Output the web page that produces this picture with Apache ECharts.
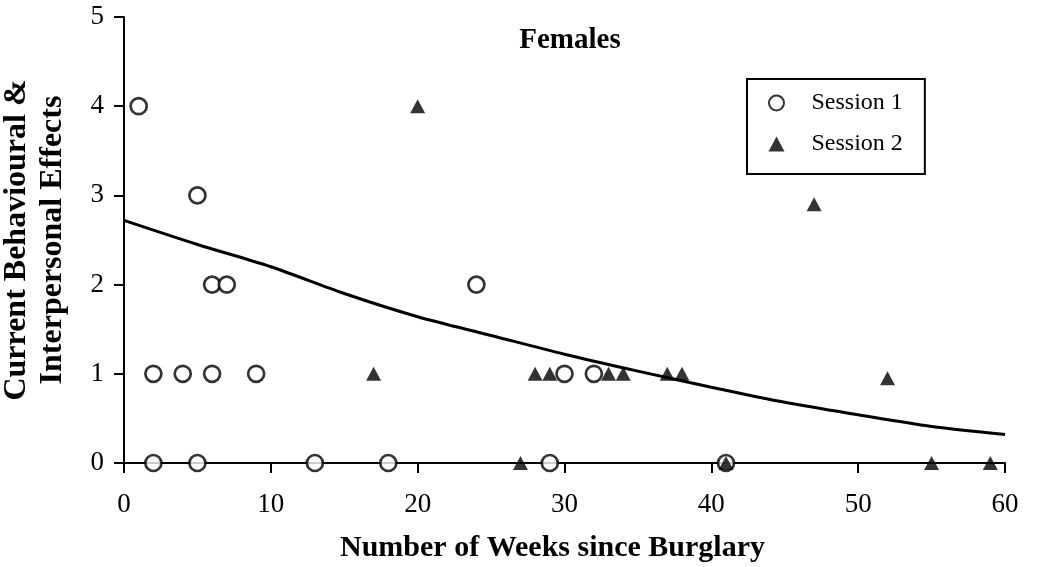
<!DOCTYPE html>
<html lang="en">

<head>
  <meta charset="utf-8">
  <title>Females</title>
  <script src="https://cdn.jsdelivr.net/npm/echarts@6/dist/echarts.min.js"></script>
</head>

<body style="margin:0;background:#fff">
<div id="main" style="width:1039px;height:567px"></div>
<script type="text/javascript">
    // Session 1 (open circles)
    var session1Weeks = [1, 5, 6, 7, 24, 2, 4, 6, 9, 30, 32, 2, 5, 13, 18, 29, 41];
    var session1Effects = [4, 3, 2, 2, 2, 1, 1, 1, 1, 1, 1, 0, 0, 0, 0, 0, 0];

    // Session 2 (filled triangles)
    var session2Weeks = [20, 47, 17, 28, 29, 33, 34, 37, 38, 52, 27, 41, 55, 59];
    var session2Effects = [4, 2.9, 1, 1, 1, 1, 1, 1, 1, 0.95, 0, 0, 0, 0];

    // fitted trend line
    var trendWeeks = [0, 5, 10, 15, 20, 25, 30, 35, 40, 45, 50, 55, 60];
    var trendEffects = [2.72, 2.45, 2.2, 1.9, 1.64, 1.43, 1.22, 1.03, 0.85, 0.68, 0.54, 0.41, 0.32];

    var xTicks = [0, 10, 20, 30, 40, 50, 60];
    var yTicks = [0, 1, 2, 3, 4, 5];

    function pairs(xs, ys) {
        var out = [];
        for (var i = 0; i < xs.length; i++) {
            out.push([xs[i], ys[i]]);
        }
        return out;
    }

    var serif = "'Liberation Serif', 'Times New Roman', serif";
    var myChart = echarts.init(document.getElementById('main'), null, {renderer: 'canvas'});

    var option = {
        backgroundColor: '#fff',
        animation: false,
        title: {
            text: 'Females',
            left: 565,
            top: 21,
            textAlign: 'center',
            textStyle: {fontFamily: serif, fontSize: 29, fontWeight: 'bold', color: '#000'}
        },
        legend: {
            data: ['Session 1', 'Session 2'],
            orient: 'vertical',
            left: 747,
            top: 79,
            padding: [12, 22, 18, 21],
            itemGap: 17,
            itemWidth: 16,
            itemHeight: 15,
            borderColor: '#000',
            borderWidth: 2,
            borderRadius: 0,
            textStyle: {fontFamily: serif, fontSize: 24, color: '#000', padding: [0, 0, 0, 22]}
        },
        grid: {
            left: 124,
            right: 34,
            top: 17,
            bottom: 104,
            containLabel: false,
            outerBoundsMode: 'none'
        },
        xAxis: {
            type: 'value',
            min: xTicks[0],
            max: xTicks[xTicks.length - 1],
            interval: 10,
            name: 'Number of Weeks since Burglary',
            nameLocation: 'middle',
            nameGap: 70,
            nameTextStyle: {fontFamily: serif, fontSize: 30, fontWeight: 'bold', color: '#000', padding: [0, 24, 0, 0]},
            axisLine: {onZero: false, lineStyle: {color: '#000', width: 2}},
            axisTick: {show: true, length: 10, lineStyle: {color: '#000', width: 2}},
            axisLabel: {fontFamily: serif, fontSize: 27, color: '#000', margin: 28},
            splitLine: {show: false}
        },
        yAxis: {
            type: 'value',
            min: yTicks[0],
            max: yTicks[yTicks.length - 1],
            interval: 1,
            name: 'Current Behavioural &\nInterpersonal Effects',
            nameLocation: 'middle',
            nameRotate: 90,
            nameGap: 53,
            nameTextStyle: {fontFamily: serif, fontSize: 32, fontWeight: 'bold', color: '#000', lineHeight: 36},
            axisLine: {lineStyle: {color: '#000', width: 2}},
            axisTick: {show: true, length: 10, lineStyle: {color: '#000', width: 2}},
            axisLabel: {fontFamily: serif, fontSize: 27, color: '#000', margin: 20},
            splitLine: {show: false}
        },
        series: [{
            name: 'Trend',
            type: 'line',
            smooth: 0.3,
            symbol: 'none',
            lineStyle: {color: '#000', width: 3},
            z: 1,
            data: pairs(trendWeeks, trendEffects)
        }, {
            name: 'Session 1',
            type: 'scatter',
            symbol: 'circle',
            symbolSize: 16,
            itemStyle: {color: '#fff', borderColor: '#000', borderWidth: 2.7},
            z: 3,
            data: pairs(session1Weeks, session1Effects)
        }, {
            name: 'Session 2',
            type: 'scatter',
            symbol: 'triangle',
            symbolSize: [15, 14],
            itemStyle: {color: '#000'},
            z: 4,
            data: pairs(session2Weeks, session2Effects)
        }]
    };

    myChart.setOption(option);
</script>

</body>
</html>
